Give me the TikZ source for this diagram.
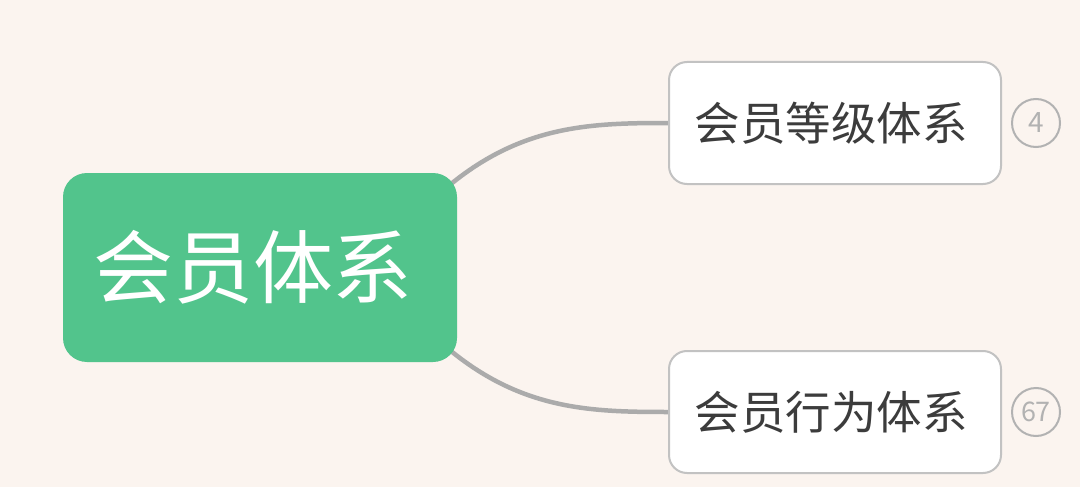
\documentclass[tikz,border=0pt]{standalone}
\usepackage{fontspec}
\setmainfont{Noto Sans CJK SC}
\pgfdeclarelayer{bglayer}
\pgfdeclarelayer{linklayer}
\pgfsetlayers{bglayer,linklayer,main}
\definecolor{bgc}{HTML}{FBF4EF}
\definecolor{rootgreen}{HTML}{52C48C}
\definecolor{linkgray}{HTML}{ABABAB}
\definecolor{bordergray}{HTML}{C2C2C2}
\definecolor{textdark}{HTML}{3C3C3C}
\definecolor{badgegray}{HTML}{B2B2B2}
\tikzset{
  rootbox/.style={rectangle, rounded corners=24pt, fill=rootgreen, text=white,
    minimum width=394pt, minimum height=189pt, inner sep=0pt,
    font=\fontsize{80pt}{82pt}\selectfont},
  childbox/.style={rectangle, rounded corners=18pt, fill=white, draw=bordergray,
    line width=2pt, text=textdark, minimum width=332pt, minimum height=122pt,
    inner sep=0pt, font=\fontsize{45.5pt}{47pt}\selectfont},
  badge/.style={circle, draw=badgegray, line width=2pt, text=badgegray,
    minimum size=48pt, inner sep=0pt, font=\fontsize{28pt}{29pt}\selectfont},
  badgewide/.style={badge, font=\fontsize{27pt}{28pt}\selectfont},
  link/.style={draw=linkgray, line width=4.5pt}
}
\begin{document}
\begin{tikzpicture}[x=1pt,y=-1pt]
\begin{pgfonlayer}{bglayer}
\fill[bgc] (0,0) rectangle (1080,487);
\end{pgfonlayer}
\useasboundingbox (0,0) rectangle (1080,487);
\node[rootbox] (root) at (260,267.5) {\hspace*{-14pt}会员体系};
\node[childbox] (c1) at (835,123) {\hspace*{-8pt}会员等级体系};
\node[childbox] (c2) at (835,412) {\hspace*{-8pt}会员行为体系};
\node[badge] (b1) at (1036,123) {4};
\node[badgewide] (b2) at (1036,412) {\kern-1pt 6\kern-1pt 7};
\begin{pgfonlayer}{linklayer}
\coordinate (s1) at ([xshift=-12pt,yshift=-16pt]root.north east);
\coordinate (s2) at ([xshift=-12pt,yshift=16pt]root.south east);
\path[link] (s1) .. controls (520,125) and (590,123) .. (c1.west);
\path[link] (s2) .. controls (520,410) and (590,412) .. (c2.west);
\end{pgfonlayer}
\end{tikzpicture}
\end{document}
